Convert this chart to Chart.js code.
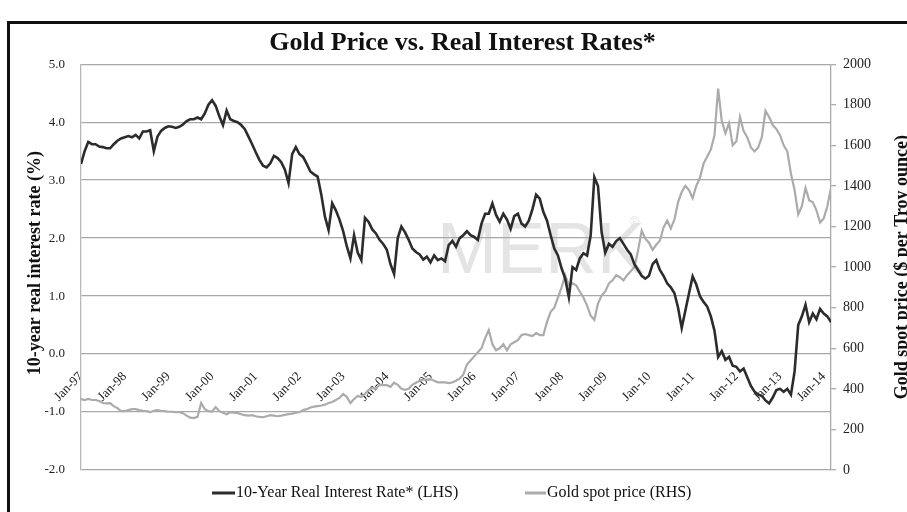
<!DOCTYPE html>
<html>
<head>
<meta charset="utf-8">
<title>Gold Price vs. Real Interest Rates</title>
<script src="https://cdn.jsdelivr.net/npm/chart.js@4.4.1/dist/chart.umd.min.js"></script>
<style>
  html, body { margin: 0; padding: 0; background: #fff; }
  .wrap { position: relative; width: 907px; height: 512px; overflow: hidden; }
  .frame { position: absolute; left: 7px; top: 21px; width: 940px; height: 540px; border-left: 3px solid #111; border-top: 3px solid #111; }
  canvas { position: absolute; left: 0; top: 0; }
</style>
</head>
<body>
<div class="wrap">
  <div class="frame"></div>
  <canvas id="goldChart" width="907" height="512"></canvas>
</div>
<script>
// monthly series, first point = Jan-97
const startYear = 1997;

const tickLabels = ['Jan-97', 'Jan-98', 'Jan-99', 'Jan-00', 'Jan-01', 'Jan-02', 'Jan-03', 'Jan-04', 'Jan-05',
    'Jan-06', 'Jan-07', 'Jan-08', 'Jan-09', 'Jan-10', 'Jan-11', 'Jan-12', 'Jan-13', 'Jan-14'];

// 10-year real interest rate (%)
const rateValues = [
    3.28, 3.50, 3.66, 3.62, 3.62, 3.58, 3.57, 3.55, 3.55, 3.62, 3.68, 3.72,
    3.74, 3.76, 3.74, 3.78, 3.72, 3.84, 3.84, 3.86, 3.50, 3.75, 3.85, 3.90,
    3.93, 3.92, 3.90, 3.92, 3.96, 4.02, 4.05, 4.05, 4.08, 4.05, 4.15, 4.30,
    4.38, 4.28, 4.10, 3.95, 4.20, 4.05, 4.02, 4.00, 3.95, 3.88, 3.75, 3.62,
    3.48, 3.35, 3.25, 3.22, 3.29, 3.42, 3.38, 3.31, 3.18, 2.95, 3.45, 3.57,
    3.45, 3.40, 3.28, 3.15, 3.10, 3.06, 2.75, 2.37, 2.14, 2.60, 2.48, 2.32,
    2.12, 1.86, 1.65, 2.05, 1.75, 1.62, 2.35, 2.28, 2.15, 2.08, 1.97, 1.90,
    1.80, 1.55, 1.38, 2.00, 2.20, 2.10, 1.97, 1.82, 1.76, 1.72, 1.63, 1.68,
    1.58, 1.70, 1.62, 1.65, 1.60, 1.88, 1.95, 1.85, 2.00, 2.05, 2.12, 2.05,
    2.02, 1.97, 2.25, 2.42, 2.42, 2.60, 2.40, 2.28, 2.42, 2.32, 2.16, 2.38,
    2.42, 2.25, 2.20, 2.30, 2.50, 2.75, 2.68, 2.45, 2.30, 2.05, 1.82, 1.70,
    1.48, 1.30, 0.98, 1.50, 1.45, 1.65, 1.74, 1.70, 2.05, 3.05, 2.90, 2.10,
    1.75, 1.90, 1.85, 1.95, 2.00, 1.90, 1.80, 1.72, 1.55, 1.45, 1.35, 1.30,
    1.35, 1.55, 1.62, 1.45, 1.35, 1.22, 1.15, 1.05, 0.80, 0.45, 0.75, 1.05,
    1.34, 1.20, 1.00, 0.90, 0.82, 0.65, 0.40, -0.05, 0.05, -0.10, -0.05, -0.20,
    -0.22, -0.30, -0.25, -0.40, -0.55, -0.65, -0.70, -0.72, -0.80, -0.85, -0.75, -0.62,
    -0.60, -0.65, -0.60, -0.70, -0.30, 0.50, 0.65, 0.85, 0.55, 0.70, 0.60, 0.78,
    0.70, 0.65, 0.55
];

// gold spot price ($ per troy ounce)
const goldValues = [
    350, 345, 350, 345, 345, 340, 330, 328, 330, 315, 305, 290,
    290, 295, 300, 300, 295, 292, 290, 285, 292, 295, 292, 290,
    287, 287, 285, 285, 280, 268, 258, 256, 262, 330, 300, 290,
    288, 310, 290, 282, 275, 285, 282, 280, 275, 270, 268, 270,
    265, 262, 260, 265, 270, 268, 265, 268, 272, 275, 278, 282,
    285, 295, 300, 308, 312, 315, 318, 322, 330, 335, 345, 355,
    375, 360, 330, 350, 365, 360, 375, 395, 405, 400, 420, 418,
    418, 410, 430, 420, 400, 395, 400, 420, 430, 440, 445, 445,
    448, 440, 432, 432, 432, 428, 432, 440, 450, 470, 520, 540,
    560, 580, 600, 650, 690, 620, 590, 600, 620, 590, 620, 630,
    640, 665, 670, 665, 660, 675, 665, 665, 730, 780, 800, 850,
    900, 960, 910, 920, 910, 880, 850, 810, 760, 740, 820, 860,
    880, 920, 935, 960, 950, 935, 960, 980, 1000, 1080, 1180, 1140,
    1120, 1085, 1110, 1130, 1195, 1230, 1190, 1235, 1320, 1370, 1400, 1380,
    1340, 1400, 1440, 1510, 1545, 1580, 1650, 1880, 1720, 1660, 1710, 1600,
    1620, 1740, 1670, 1640, 1590, 1570, 1590, 1640, 1770, 1740, 1700, 1680,
    1650, 1600, 1570, 1460, 1380, 1260, 1300, 1390, 1330, 1320, 1280, 1220,
    1240, 1300, 1390
];

const rateLabel = '10-Year Real Interest Rate* (LHS)';
const goldLabel = 'Gold spot price (RHS)';

document.addEventListener('DOMContentLoaded', function() {
    const serif = "'Liberation Serif', 'Times New Roman', serif";
    const monthPositions = rateValues.map((v, i) => startYear + i / 12);

    // axis titles, legend and watermark drawn straight on the canvas
    const decorPlugin = {
        id: 'decor',
        beforeDraw: function(chart) {
            const ctx = chart.ctx;
            ctx.save();
            ctx.fillStyle = '#e4e4e4';
            ctx.font = "72px 'Liberation Sans', Arial, sans-serif";
            ctx.textBaseline = 'alphabetic';
            ctx.fillText('MERK', 437, 273);
            ctx.font = "12px 'Liberation Sans', Arial, sans-serif";
            ctx.fillText('®', 630, 226);
            ctx.restore();
        },
        afterDraw: function(chart) {
            const ctx = chart.ctx;
            const area = chart.chartArea;
            const midY = (area.top + area.bottom) / 2;
            ctx.save();
            ctx.fillStyle = '#111';
            ctx.font = 'bold 18px ' + serif;
            ctx.textAlign = 'center';
            ctx.textBaseline = 'alphabetic';

            ctx.save();
            ctx.translate(40, midY - 4);
            ctx.rotate(-Math.PI / 2);
            ctx.fillText('10-year real interest rate (%)', 0, 0);
            ctx.restore();

            ctx.save();
            ctx.translate(907, midY);
            ctx.rotate(-Math.PI / 2);
            ctx.fillText('Gold spot price ($ per Troy ounce)', 0, 0);
            ctx.restore();

            // legend
            const ds = chart.data.datasets;
            const legendY = 493;
            ctx.font = '16px ' + serif;
            ctx.textAlign = 'left';
            ctx.textBaseline = 'middle';
            const items = [
                { x: 212, len: 23, ds: ds[0] },
                { x: 525, len: 21, ds: ds[1] }
            ];
            items.forEach(function(item) {
                ctx.strokeStyle = item.ds.borderColor;
                ctx.lineWidth = 3;
                ctx.beginPath();
                ctx.moveTo(item.x, legendY);
                ctx.lineTo(item.x + item.len, legendY);
                ctx.stroke();
                ctx.fillStyle = '#111';
                ctx.fillText(item.ds.label, item.x + item.len + 1, legendY);
            });
            ctx.restore();
        }
    };

    const ctx = document.getElementById('goldChart').getContext('2d');

    new Chart(ctx, {
        type: 'line',
        data: {
            labels: monthPositions,
            datasets: [{
                label: rateLabel,
                data: rateValues,
                yAxisID: 'y',
                borderColor: '#2c2c2c',
                borderWidth: 2.6,
                pointRadius: 0,
                tension: 0
            }, {
                label: goldLabel,
                data: goldValues,
                yAxisID: 'y1',
                borderColor: '#ababab',
                borderWidth: 2.2,
                pointRadius: 0,
                tension: 0
            }]
        },
        options: {
            responsive: false,
            animation: false,
            layout: {
                padding: { left: 18, right: 0, top: 0, bottom: 42 }
            },
            plugins: {
                legend: { display: false },
                tooltip: { enabled: false },
                title: {
                    display: true,
                    text: 'Gold Price vs. Real Interest Rates*',
                    color: '#111',
                    font: { family: serif, size: 26, weight: 'bold' },
                    padding: { top: 28, bottom: 5 }
                }
            },
            scales: {
                x: {
                    type: 'linear',
                    min: startYear,
                    max: startYear + (rateValues.length - 1) / 12,
                    position: { y: 0 },
                    grid: { display: false, drawTicks: false },
                    border: { display: false },
                    afterBuildTicks: function(scale) {
                        scale.ticks = tickLabels.map((l, i) => ({ value: startYear + i }));
                    },
                    ticks: {
                        autoSkip: false,
                        minRotation: 45,
                        maxRotation: 45,
                        padding: 15,
                        color: '#222',
                        font: { family: serif, size: 13 },
                        callback: function(value) {
                            return tickLabels[Math.round(value - startYear)];
                        }
                    }
                },
                y: {
                    position: 'left',
                    min: -2,
                    max: 5,
                    afterFit: function(scale) { scale.width = 63; },
                    grid: { color: '#a8a8a8', lineWidth: 1.3, drawTicks: false },
                    border: { color: '#b8b8b8', width: 1.3 },
                    ticks: {
                        stepSize: 1,
                        padding: 16,
                        color: '#222',
                        font: { family: serif, size: 13 },
                        callback: function(value) { return value.toFixed(1); }
                    }
                },
                y1: {
                    position: 'right',
                    min: 0,
                    max: 2000,
                    afterFit: function(scale) { scale.width = 76; },
                    grid: { drawOnChartArea: false, drawTicks: true, tickLength: 5, color: '#aaaaaa', lineWidth: 1.3 },
                    border: { color: '#aaaaaa', width: 1.3 },
                    ticks: {
                        stepSize: 200,
                        padding: 7,
                        color: '#222',
                        font: { family: serif, size: 14 },
                        callback: function(value) { return String(value); }
                    }
                }
            }
        },
        plugins: [decorPlugin]
    });
});
</script>
</body>
</html>
